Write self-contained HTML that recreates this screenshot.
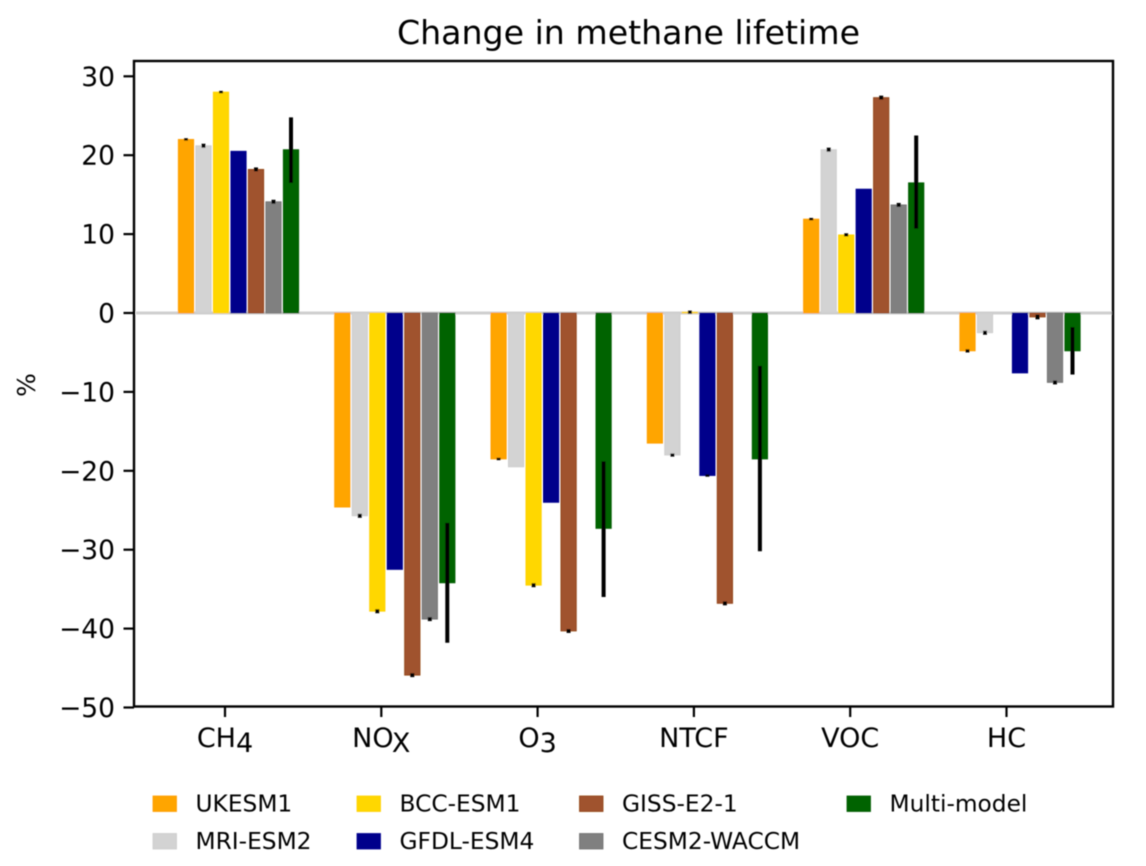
<!DOCTYPE html>
<html lang="en">
<head>
<meta charset="utf-8">
<title>Change in methane lifetime</title>
<style>
html,body{margin:0;padding:0;background:#fff;width:1146px;height:866px;overflow:hidden}
svg{display:block}
text{font-family:"DejaVu Sans","Liberation Sans",sans-serif;fill:#000}
</style>
</head>
<body>
<svg id="chart" xmlns="http://www.w3.org/2000/svg" width="1146" height="866" viewBox="0 0 1146 866">
  <defs>
    <filter id="soft" x="-5%" y="-5%" width="110%" height="110%"><feGaussianBlur stdDeviation="0.5"/></filter>
  </defs>
  <g id="plot" filter="url(#soft)"></g>
</svg>
<script>
const categories = [["CH","4"],["NO","X"],["O","3"],["NTCF",""],["VOC",""],["HC",""]];
const models = ["UKESM1","MRI-ESM2","BCC-ESM1","GFDL-ESM4","GISS-E2-1","CESM2-WACCM","Multi-model"];
const fills = ["#ffa500","#d3d3d3","#ffd700","#00008b","#a0522d","#808080","#006400"];
const edges = ["#ff9d00","#cccccc","#ffd000","#000090","#8f4010","#707070","#005a00"];
const valuesUKESM1 = [22.0,-24.6,-18.5,-16.5,11.9,-4.8];
const valuesMRI = [21.2,-25.7,-19.5,-18.0,20.7,-2.5];
const valuesBCC = [28.0,-37.8,-34.5,0.1,9.9,0];
const valuesGFDL = [20.5,-32.5,-24.0,-20.6,15.7,-7.6];
const valuesGISS = [18.2,-45.9,-40.3,-36.8,27.3,-0.5];
const valuesCESM = [14.1,-38.8,0,0,13.7,-8.8];
const valuesMulti = [20.7,-34.2,-27.3,-18.5,16.5,-4.8];
const errorsUKESM1 = [0.15,0,0.15,0,0.15,0.2];
const errorsMRI = [0.25,0.25,0,0.2,0.25,0.25];
const errorsBCC = [0.15,0.25,0.25,0.2,0.2,0];
const errorsGFDL = [0,0,0,0.15,0,0];
const errorsGISS = [0.25,0.25,0.25,0.25,0.25,0.3];
const errorsCESM = [0.25,0.25,0,0,0.25,0.25];
const multiErrorLow = [16.5,-41.8,-36.0,-30.2,10.7,-7.8];
const multiErrorHigh = [24.8,-26.6,-18.8,-6.7,22.5,-1.8];
const yTicks = [30,20,10,0,-10,-20,-30,-40,-50];

const allValues = [valuesUKESM1,valuesMRI,valuesBCC,valuesGFDL,valuesGISS,valuesCESM,valuesMulti];
const allErrors = [errorsUKESM1,errorsMRI,errorsBCC,errorsGFDL,errorsGISS,errorsCESM];

const NS = "http://www.w3.org/2000/svg";
const svg = document.getElementById("plot");
const AX = {left:134, right:1113, top:61, bottom:706.5};
const yScale = v => 313 - 7.89 * v;
const xTick = i => 225 + 156.3 * i;
const barOffset = m => -39 + 17.5 * m;
const BAR_W = 15.4;

function mk(tag, attrs, parent) {
  const el = document.createElementNS(NS, tag);
  for (const k in attrs) el.setAttribute(k, attrs[k]);
  (parent || svg).appendChild(el);
  return el;
}

// zero line
const zero = mk("line",{x1:AX.left+2,x2:AX.right,y1:yScale(0),y2:yScale(0),stroke:"#cfcfcf","stroke-width":3});



// bars
categories.forEach((cat, c) => {
  models.forEach((model, m) => {
    const v = allValues[m][c];
    if (v === 0) return;
    const cx = xTick(c) + barOffset(m);
    const y0 = yScale(0), y1 = yScale(v);
    const bar = mk("rect",{x:cx-BAR_W/2,y:Math.min(y0,y1),width:BAR_W,height:Math.abs(y1-y0),fill:fills[m],stroke:edges[m],"stroke-width":0.8});
    
    
  });
});

// small model error marks
categories.forEach((cat, c) => {
  allErrors.forEach((series, m) => {
    const e = series[c];
    if (!e) return;
    const v = allValues[m][c];
    const cx = xTick(c) + barOffset(m);
    const ya = yScale(v - e), yb = yScale(v + e);
    const mark = mk("line",{x1:cx,x2:cx,y1:ya,y2:yb,stroke:"#000","stroke-width":4});
    
    
  });
});

// multi-model error bars
categories.forEach((cat, c) => {
  const cx = xTick(c) + barOffset(6);
  const line = mk("line",{x1:cx,x2:cx,y1:yScale(multiErrorLow[c]),y2:yScale(multiErrorHigh[c]),stroke:"#000","stroke-width":4});
  
  
});

// frame
const frame = mk("rect",{x:AX.left,y:AX.top,width:AX.right-AX.left,height:AX.bottom-AX.top,fill:"none",stroke:"#000","stroke-width":2.4});



// y ticks
yTicks.forEach(t => {
  const y = yScale(t);
  const tick = mk("line",{x1:AX.left-10.5,x2:AX.left,y1:y,y2:y,stroke:"#000","stroke-width":2.2});
  
  
  const lab = mk("text",{x:115,y:y+9.5,"text-anchor":"end","font-size":"26.5"});
  lab.textContent = String(t).replace("-", "\u2212");
  
  
});

// x ticks
categories.forEach((cat, c) => {
  const x = xTick(c);
  const tick = mk("line",{x1:x,x2:x,y1:AX.bottom,y2:AX.bottom+10.5,stroke:"#000","stroke-width":2.2});
  
  
  const lab = mk("text",{x:x,y:747,"text-anchor":"middle","font-size":"27"});
  
  
  const base = mk("tspan",{},lab);
  base.textContent = cat[0];
  if (cat[1]) {
    const sub = mk("tspan",{dy:"5"},lab);
    sub.textContent = cat[1];
  }
});

// title
const title = mk("text",{x:628.5,y:44,"text-anchor":"middle","font-size":"33.2"});
title.textContent = "Change in methane lifetime";



// y axis title
const yTitle = mk("text",{x:0,y:0,"text-anchor":"middle","font-size":"25",transform:"translate(35,385) rotate(-90)"});
yTitle.textContent = "%";



// legend
const legendCols = [153, 357, 579.5, 847];
const legendRows = [796, 833.5];
models.forEach((model, m) => {
  const col = Math.floor(m / 2), row = m % 2;
  const px = legendCols[col], py = legendRows[row];
  const swatch = mk("rect",{x:px,y:py,width:23.5,height:15.5,fill:fills[m],stroke:edges[m],"stroke-width":0.8});
  
  
  const lab = mk("text",{x:px+42.5,y:py+15.5,"font-size":"23.3"});
  lab.textContent = model;
  
  
});
</script>
</body>
</html>
